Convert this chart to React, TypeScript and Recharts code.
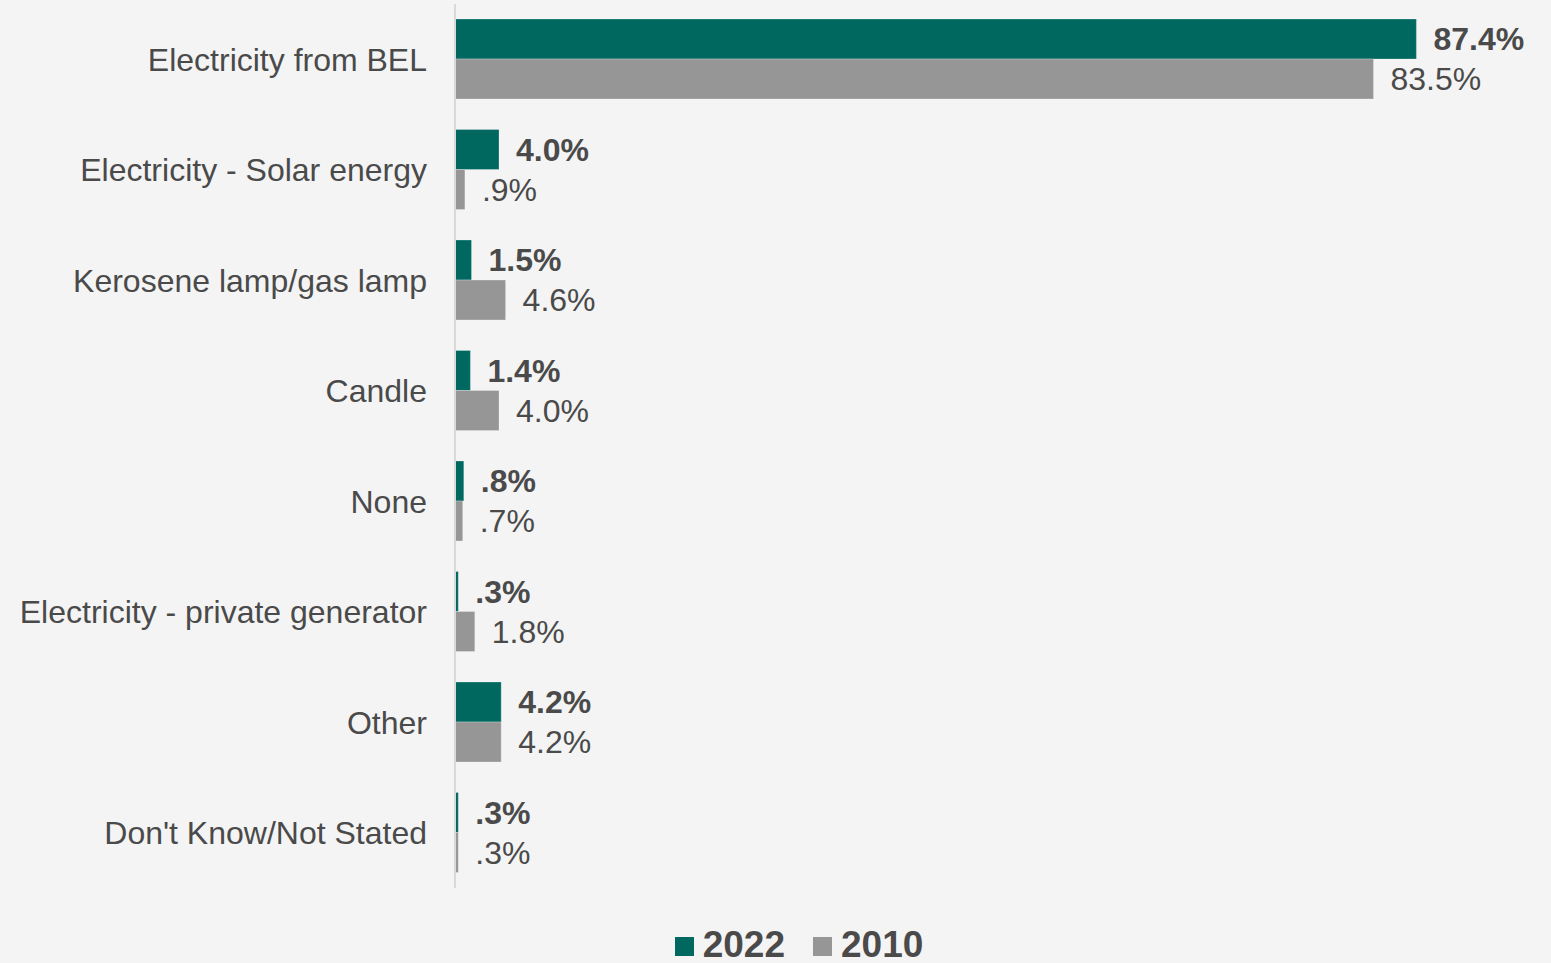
import { Bar, BarChart, LabelList, Legend, XAxis, YAxis } from "recharts";

const categories = [
  "Electricity from BEL",
  "Electricity - Solar energy",
  "Kerosene lamp/gas lamp",
  "Candle",
  "None",
  "Electricity - private generator",
  "Other",
  "Don't Know/Not Stated",
];
const values2022 = [87.4, 4.0, 1.5, 1.4, 0.8, 0.3, 4.2, 0.3];
const values2010 = [83.5, 0.9, 4.6, 4.0, 0.7, 1.8, 4.2, 0.3];

const data = categories.map((name, i) => ({
  name,
  y2022: values2022[i],
  y2010: values2010[i],
}));

const FONT = '"Liberation Sans", Arial, sans-serif';
const TEAL = "#00685f";
const GRAY = "#969696";
const TEXT = "#4a4a4a";

// 0.9 -> ".9%", 4.0 -> "4.0%"
const fmt = (v: any) => {
  const s = Number(v).toFixed(1);
  return (s.startsWith("0") ? s.slice(1) : s) + "%";
};

function LegendBox() {
  const items = [
    { label: "2022", color: TEAL },
    { label: "2010", color: GRAY },
  ];
  return (
    <div
      style={{
        display: "flex",
        justifyContent: "center",
        alignItems: "center",
        height: 70,
        paddingTop: 42,
        boxSizing: "border-box",
        fontFamily: FONT,
        fontWeight: "bold",
        fontSize: 37,
        lineHeight: "37px",
        color: TEXT,
        gap: 28,
        paddingLeft: 153,
      }}
    >
      {items.map((it) => (
        <div key={it.label} style={{ display: "flex", alignItems: "center", gap: 9 }}>
          <span
            style={{
              width: 19,
              height: 19,
              background: it.color,
              display: "inline-block",
              marginTop: 4,
            }}
          />
          <span>{it.label}</span>
        </div>
      ))}
    </div>
  );
}

export default function App() {
  return (
    <div
      style={{
        position: "absolute",
        left: 0,
        top: 0,
        width: 1551,
        height: 963,
        background: "#f4f4f4",
        overflow: "hidden",
      }}
    >
      <BarChart
        width={1551}
        height={963}
        data={data}
        layout="vertical"
        margin={{ top: 4, right: 106, left: 0, bottom: 5 }}
        barSize={40}
        barGap={0}
      >
        <XAxis type="number" domain={[0, 90]} hide />
        <YAxis
          type="category"
          dataKey="name"
          width={455}
          interval={0}
          axisLine={{ stroke: "#d9d9d9", strokeWidth: 2 }}
          tickLine={false}
          tickSize={0}
          tickMargin={28}
          tick={{ fill: TEXT, fontSize: 32, fontFamily: FONT }}
        />
        <Legend verticalAlign="bottom" height={70} content={() => <LegendBox />} />
        <Bar
          dataKey="y2022"
          name="2022"
          fill={TEAL}
          stroke="rgba(255,255,255,0.25)"
          isAnimationActive={false}
        >
          <LabelList
            dataKey="y2022"
            position="right"
            offset={17}
            formatter={fmt}
            style={{ fill: TEXT, fontSize: 32, fontWeight: "bold", fontFamily: FONT }}
          />
        </Bar>
        <Bar
          dataKey="y2010"
          name="2010"
          fill={GRAY}
          stroke="rgba(255,255,255,0.25)"
          isAnimationActive={false}
        >
          <LabelList
            dataKey="y2010"
            position="right"
            offset={17}
            formatter={fmt}
            style={{ fill: TEXT, fontSize: 32, fontFamily: FONT }}
          />
        </Bar>
      </BarChart>
    </div>
  );
}
